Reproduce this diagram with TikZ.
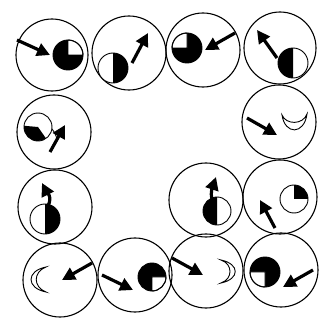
\documentclass[tikz,border=0pt]{standalone}
\usetikzlibrary{arrows.meta}
\newcommand\qball[4]{% black ball, white sector #3..#4
  \fill (#1) circle[radius=#2pt];
  \filldraw[fill=white,rim] (#1) -- ++(#3:#2pt) arc[start angle=#3,end angle=#4,radius=#2pt] -- cycle;
  \draw[rim] (#1) circle[radius=#2pt];}
\newcommand\wball[4]{% white ball, black sector #3..#4
  \fill[white] (#1) circle[radius=#2pt];
  \fill (#1) -- ++(#3:#2pt) arc[start angle=#3,end angle=#4,radius=#2pt] -- cycle;
  \draw[rim] (#1) circle[radius=#2pt];}
\begin{document}
\begin{tikzpicture}[x=1pt,y=1pt,
  cell/.style={line width=1.1pt},
  mover/.style={line width=3.2pt,-{Triangle[length=13pt,width=13pt]}},
  rim/.style={line width=0.9pt},
  thinline/.style={line width=0.9pt}]
\useasboundingbox (0,0) rectangle (331,333);
\fill[white] (0,0) rectangle (331,333);
% cells
\foreach \n/\x/\y/\r in {t1/52/278/36, t2/129/280/37, t3/203/283/37, t4/280/285/36,
  l2/54/201/37, r2/279/211/37, l3/55/126/37, m3/206/133/37, r3/280/136/37,
  b1/60/53/37, b2/135/58/37, b3/206/62/37, b4/281/63/37}
  {\coordinate (\n) at (\x,\y); \draw[cell] (\n) circle[radius=\r pt];}
% balls
\coordinate (k1) at (68,278); \qball{k1}{15}{0}{90}
\coordinate (k2) at (113,265); \wball{k2}{15}{-90}{90}
\coordinate (k3) at (187,285); \qball{k3}{15}{90}{180}
\coordinate (k4) at (293,270); \wball{k4}{15}{90}{270}
\coordinate (k5) at (38,206); \wball{k5}{14}{175}{305}
\coordinate (k6) at (45,114); \wball{k6}{15}{-90}{90}
\coordinate (k7) at (217,122); \wball{k7}{14}{90}{270}
\coordinate (k8) at (294,134); \wball{k8}{14}{0}{90}
\coordinate (k9) at (152,56); \qball{k9}{14}{-90}{0}
\coordinate (k10) at (265,61); \qball{k10}{15}{180}{270}
% arrows
\coordinate (a1) at (17,293); \coordinate (e1) at (50,278);
\coordinate (a2) at (132,270); \coordinate (e2) at (148,300);
\coordinate (a3) at (235,300); \coordinate (e3) at (205,283);
\coordinate (a4) at (277,275); \coordinate (e4) at (257,303);
\coordinate (a5) at (50,181); \coordinate (e5) at (65,208);
\coordinate (a6) at (247,215); \coordinate (e6) at (277,198);
\coordinate (a7) at (275,105); \coordinate (e7) at (260,133);
\coordinate (a8) at (92,70); \coordinate (e8) at (62,53);
\coordinate (a9) at (102,58); \coordinate (e9) at (133,43);
\coordinate (a10) at (172,75); \coordinate (e10) at (203,58);
\coordinate (a11) at (313,63); \coordinate (e11) at (283,46);
\foreach \i in {1,...,11} {\draw[mover] (a\i) -- (e\i);}
\coordinate (a12) at (48,127); \coordinate (e12) at (42,150);
\draw[mover] (a12) .. controls (53,137) and (46,142) .. (e12);
\coordinate (a13) at (212,134); \coordinate (e13) at (216,156);
\draw[mover] (a13) .. controls (210,141) and (213,147) .. (e13);
\coordinate (q1) at (52,204); \coordinate (q2) at (57,194);
\draw[thinline] (q1) .. controls (55,200) .. (q2);
% crescents
\draw[thinline] (46,66) .. controls (26,62) and (26,45) .. (46,41) .. controls (33,46) and (33,61) .. (46,66) -- cycle;
\draw[thinline] (221,73) .. controls (240,69) and (240,54) .. (221,50) .. controls (233,54) and (233,69) .. (221,73) -- cycle;
\draw[thinline] (282,218) .. controls (285,198) and (304,198) .. (307,219) .. controls (303,208) and (286,208) .. (282,218) -- cycle;
\end{tikzpicture}
\end{document}
